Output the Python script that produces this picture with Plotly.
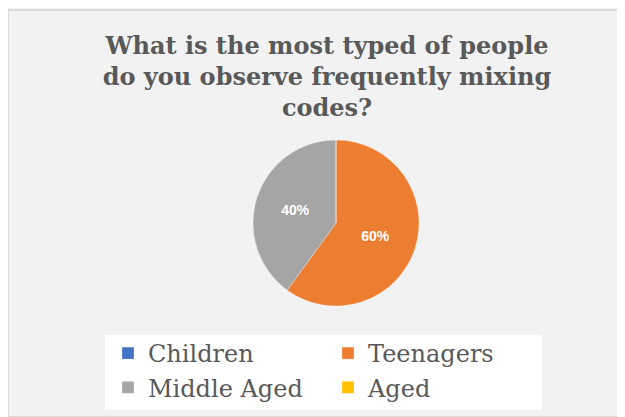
import plotly.graph_objects as go

labels = ["Children", "Teenagers", "Middle Aged", "Aged"]
values = [0, 60, 40, 0]
colors = ["#4472C4", "#ED7D31", "#A5A5A5", "#FFC000"]
title_text = "What is the most typed of people<br>do you observe frequently mixing<br>codes?"

# page body has an 8px margin; work in window pixels and convert
OFF = 8
W, H = 617, 409
ML, MR = 60, 60
GW = W - ML - MR

def px_x(p):
    return (p - OFF - ML) / GW

def px_y(p):
    return 1 - (p - OFF) / H

cx, cy, r = 336, 223, 83

fig = go.Figure(go.Pie(
    labels=labels,
    values=values,
    marker=dict(colors=colors, line=dict(color="rgba(255,255,255,0.3)", width=1)),
    sort=False,
    direction="clockwise",
    rotation=0,
    texttemplate=["", "%{percent:.0%}", "%{percent:.0%}", ""],
    textposition="inside",
    insidetextorientation="horizontal",
    textfont=dict(family="Liberation Sans", size=14, color="white", weight="bold"),
    domain=dict(x=[px_x(cx - r), px_x(cx + r)], y=[px_y(cy + r), px_y(cy - r)]),
    showlegend=True,
))

fig.update_layout(
    width=W, height=H,
    margin=dict(l=ML, r=MR, t=0, b=0),
    paper_bgcolor="#f2f2f2",
    plot_bgcolor="#f2f2f2",
    title=dict(
        text=title_text,
        x=(327 - OFF) / W, xanchor="center",
        y=1 - (54 - OFF) / H, yanchor="top",
        font=dict(family="DejaVu Serif", size=24, color="#595959", weight="bold"),
    ),
    legend=dict(
        orientation="h",
        x=px_x(108), xanchor="left",
        y=px_y(331), yanchor="top",
        bgcolor="rgba(0,0,0,0)",
        font=dict(family="DejaVu Serif", size=24, color="#595959"),
        entrywidth=175,
        traceorder="normal",
    ),
    shapes=[
        dict(type="rect", xref="paper", yref="paper", layer="below",
             x0=px_x(8), x1=px_x(625), y0=px_y(417), y1=px_y(10),
             fillcolor="#f2f2f2", line=dict(color="#d4d4d4", width=1.5)),
        dict(type="rect", xref="paper", yref="paper", layer="below",
             x0=px_x(105), x1=px_x(542), y0=px_y(410), y1=px_y(335),
             fillcolor="white", line=dict(width=0)),
    ],
)

fig.write_html("out.html")
